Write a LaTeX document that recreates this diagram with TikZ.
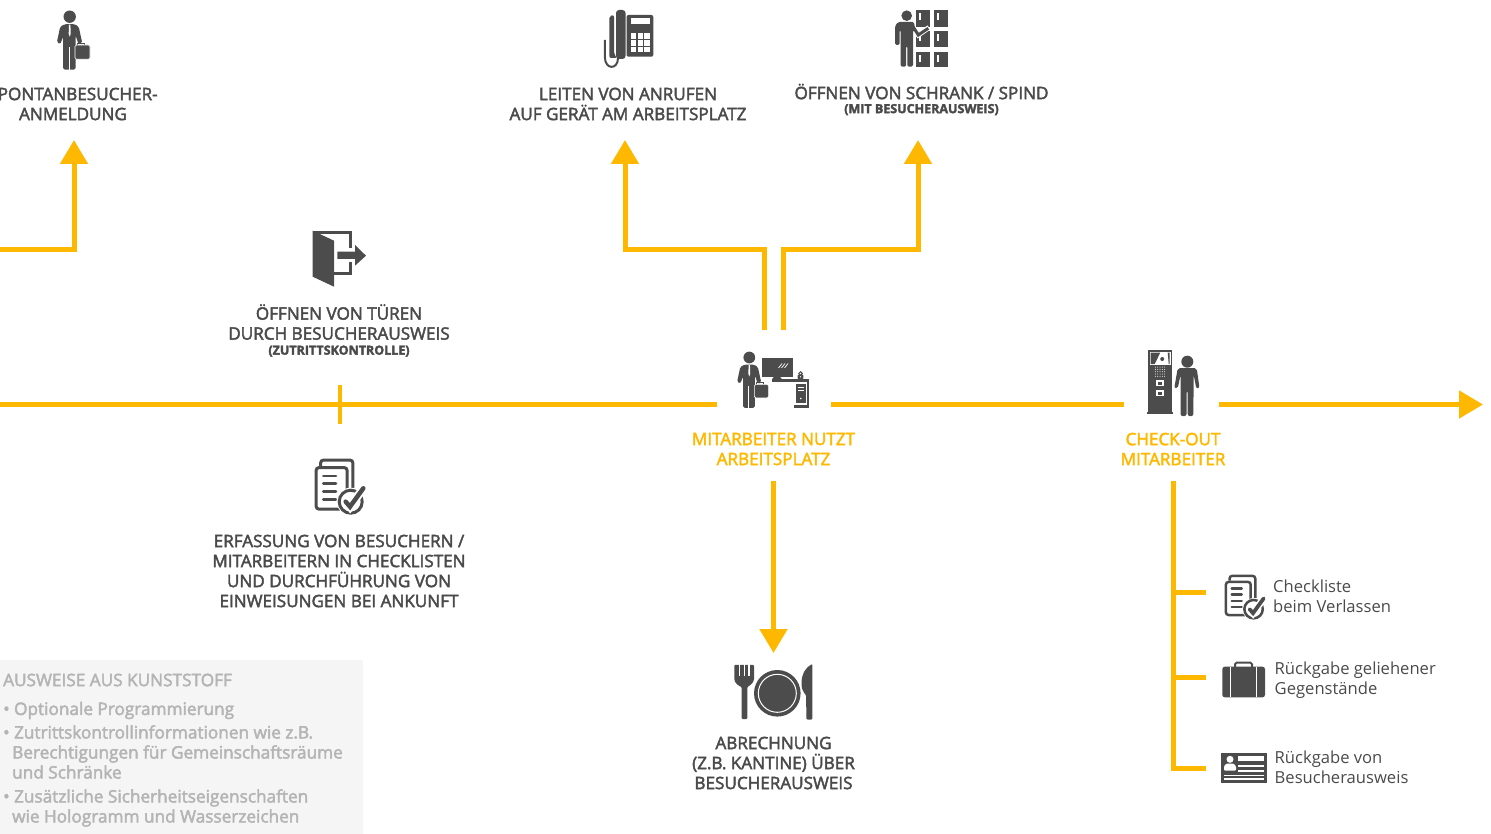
\documentclass[tikz,border=0pt]{standalone}
\usepackage{fontspec}
\setmainfont{Open Sans}
\newfontfamily\semifont{Open Sans}[FakeBold = 2.5]
\usetikzlibrary{arrows.meta}
\definecolor{amber}{HTML}{FFB800}
\definecolor{ink}{HTML}{4C4C4C}
\definecolor{wording}{HTML}{4A4A4A}
\definecolor{paper}{HTML}{F5F5F5}
\definecolor{faded}{HTML}{B4B4B4}
\newcommand{\smalllab}{\fontsize{12.5}{14}\selectfont\bfseries}
\begin{document}
\begin{tikzpicture}[
        x = 1pt, y = -1pt,
        arr/.style = {draw = amber, line width = 5pt, -{Triangle[length = 24pt, width = 27pt]}},
        lane/.style = {draw = amber, line width = 5pt},
        lab/.style = {align = center, text = wording, inner sep = 0pt, font = \fontsize{17.1}{20}\selectfont\semifont},
        hot/.style = {lab, text = amber},
        item/.style = {anchor = west, align = left, text = wording, inner sep = 0pt, font = \fontsize{16.6}{20}\selectfont},
        info/.style = {anchor = west, align = left, text = faded, inner sep = 0pt, font = \fontsize{17.2}{20}\selectfont\semifont},
        pics/suitman/.style = {code = {
            \fill[ink] (0, 0) circle (6.2);
            \fill[ink, rounded corners = 1.5pt] (-5, 7.5) -- (5, 7.5) -- (9, 10) -- (12.5, 26) -- (9, 28) -- (6, 19) -- (5.8, 53) -- (-6.5, 53) -- (-6.5, 20) -- (-9.5, 27.5) -- (-12.8, 25.5) -- (-9.5, 10) -- cycle;
            \fill[white] (-0.7, 8) -- (0.7, 8) -- (1, 17) -- (0, 20) -- (-1, 17) -- cycle;
            \fill[white] (-1.1, 30) rectangle (0.1, 54);
            \draw[ink, line width = 1.2pt] (7.5, 29) -- (7.5, 26.5) -- (15, 26.5) -- (15, 29);
            \fill[ink, draw = white, line width = 0.6pt, rounded corners = 1.5pt] (5.3, 28.3) rectangle (20.3, 42.6);
        }},
        pics/phone/.style = {code = {
            \fill[ink, rounded corners = 2pt] (22.5, 5) rectangle (49.3, 46.7);
            \fill[white] (26.7, 8.3) rectangle (46, 14);
            \foreach \col in {26.7, 33.5, 40.3}
                \foreach \row in {23.3, 30.2, 37.1}
                    \fill[white] (\col, \row) rectangle +(5.6, 5.4);
            \fill[ink, rounded corners = 3pt] (12, 0) rectangle (21.5, 49);
            \fill[ink, rounded corners = 2pt] (5.3, 6) -- (10, 5) -- (10, 44) -- (13, 48) -- (5.3, 48) -- cycle;
            \draw[ink, line width = 2pt] (0.9, 30) -- (0.9, 47) .. controls (0.9, 60) and (14, 60) .. (14, 48);
        }},
        pics/lockerman/.style = {code = {
            \foreach \lx in {21, 39.3}
                \foreach \ly/\lh in {0/16.7, 20.7/16.7, 41.7/15} {
                    \fill[ink] (\lx, \ly) rectangle +(14, \lh);
                    \fill[white] (\lx + 2.5, \ly + 3.5) rectangle +(2, 7);
                }
            \fill[ink] (11.7, 5.7) circle (5.3);
            \draw[white, line width = 5pt] (17, 16) -- (23.3, 25) -- (34, 17.5);
            \fill[ink, rounded corners = 1.5pt] (3, 12) -- (19, 12) -- (20, 20) -- (18, 20) -- (18, 56.7) -- (12.3, 56.7) -- (12.3, 36) -- (11.2, 36) -- (11.2, 56.7) -- (5.5, 56.7) -- (5.5, 20) -- (4.7, 20) -- (4.7, 35) -- (0, 35) -- (0, 16) -- cycle;
            \draw[ink, line width = 3pt] (17, 15) -- (23.3, 25) -- (33.3, 18.3);
        }},
        pics/exitdoor/.style = {code = {
            \fill[ink] (0, 0) -- (21.3, 10) -- (21.3, 56) -- (0, 46) -- cycle;
            \draw[ink, line width = 3pt] (0, 1.4) -- (37.5, 1.4) -- (37.5, 17.5);
            \draw[ink, line width = 3pt] (37.5, 31.5) -- (37.5, 43) -- (21.3, 43);
            \fill[ink] (24.6, 21) -- (42.3, 21) -- (42.3, 14.3) -- (53.3, 25) -- (42.3, 35) -- (42.3, 28.3) -- (24.6, 28.3) -- cycle;
        }},
        pics/checklist/.style = {code = {
            \draw[ink, line width = #1 pt, rounded corners = 2.5pt] (5.7, 7) -- (5.7, 1.2) -- (37.8, 1.2) -- (37.8, 29);
            \draw[ink, fill = white, line width = #1 pt, rounded corners = 2.5pt] (1.2, 8.7) rectangle (32, 50);
            \foreach \ly in {17, 24.3, 32.7, 40.3}
                \draw[ink, line width = 0.9 * #1 pt, line cap = round] (8.3, \ly) -- (21, \ly);
            \fill[white] (35.7, 42.7) circle (14);
            \draw[ink, line width = #1 pt] (35.7, 42.7) circle (11.5);
            \draw[white, line width = 2.8 * #1 pt] (30.7, 42.7) -- (35, 47.7) -- (48.3, 29.3);
            \draw[ink, line width = 1.5 * #1 pt, line cap = round] (30.7, 42.7) -- (35, 47.7) -- (48.3, 29.3);
        }},
        pics/desk/.style = {code = {
            \fill[ink] (0.3, 0.3) rectangle (30.7, 18.7);
            \draw[white, line width = 0.7pt] (16.5, 10) -- (20, 5.5) (19.5, 10) -- (23, 5.5) (22.5, 10) -- (26, 5.5);
            \fill[ink] (12, 18.7) -- (18, 18.7) -- (20, 21.3) -- (10, 21.3) -- cycle;
            \fill[ink] (9.7, 21.3) rectangle (47.3, 23.7);
            \fill[ink] (45.3, 23.7) rectangle (47.3, 48.7);
            \fill[ink] (33.7, 26.3) rectangle (44, 45.3);
            \fill[ink] (32, 47) rectangle (47.3, 49.7);
            \fill[white] (35.5, 29) rectangle (42.2, 30);
            \fill[white] (35.5, 32) rectangle (42.2, 33);
            \fill[white] (38.8, 40.5) circle (0.9);
            \fill[ink, rounded corners = 1pt] (35.7, 16.5) rectangle (41.3, 21.3);
            \draw[ink, line width = 1pt] (38.5, 15.5) circle (1.8);
            \fill[white] (38.5, 18.8) circle (0.7);
        }},
        pics/kiosk/.style = {code = {
            \fill[ink] (1.6, 0) rectangle (25.6, 61.7);
            \fill[ink] (0, 62) rectangle (26.6, 64.3);
            \fill[white] (3.3, 1.7) rectangle (24, 15);
            \fill[ink] (4, 2.7) -- (13.5, 2.7) -- (8, 14) -- (4, 14) -- cycle;
            \fill[ink] (21, 2.7) -- (23, 2.7) -- (23, 14) -- (22, 14) -- cycle;
            \fill[ink] (15.5, 9) circle (2);
            \foreach \dx in {-2, ..., 2}
                \foreach \dy in {-2, ..., 2}
                    \fill[white] (13.3 + 2.3 * \dx, 21.7 + 2.3 * \dy) circle (0.5);
            \foreach \ly in {30, 40} {
                \fill[white] (9.3, \ly) rectangle +(8.3, 6);
                \fill[ink] (11.5, \ly + 1.5) rectangle +(3.5, 3);
            }
            \fill[ink] (40.6, 11.7) circle (6);
            \fill[ink, rounded corners = 2pt] (31, 18.2) -- (50, 18.2) -- (52.8, 38) -- (49.6, 38.5) -- (47, 25) -- (46.6, 66) -- (41, 66) -- (41, 41) -- (39.8, 41) -- (39.8, 66) -- (33.8, 66) -- (33.8, 25) -- (31, 38.5) -- (27.6, 38) -- cycle;
        }},
        pics/meal/.style = {code = {
            \fill[ink, rounded corners = 1pt] (0.3, 0.8) -- (20, 0.8) -- (20, 14) .. controls (20, 19) and (15, 22) .. (13.3, 23) -- (13.3, 55) -- (7.7, 55) -- (7.7, 23) .. controls (5, 22) and (0.3, 19) .. (0.3, 14) -- cycle;
            \foreach \lx in {4.7, 9.5, 14.3}
                \fill[white] (\lx, 0) rectangle +(1.2, 12);
            \fill[ink] (43.3, 29.3) circle (23.3);
            \draw[white, line width = 1pt] (43.3, 29.3) circle (19);
            \fill[ink, rounded corners = 1pt] (78.3, 0) .. controls (72, 3) and (67.5, 10) .. (67.5, 20) .. controls (67.5, 25) and (70, 29) .. (72, 31) -- (72.5, 55.5) -- (78.3, 55.5) -- cycle;
        }},
        pics/suitcase/.style = {code = {
            \draw[ink, line width = 2pt, rounded corners = 1.5pt] (13, 6) -- (13, 1) -- (30, 1) -- (30, 6);
            \fill[ink, rounded corners = 2.5pt] (0.3, 5) rectangle (43, 35.6);
            \fill[white] (8.1, 5) rectangle +(1.2, 30.6);
            \fill[white] (34.1, 5) rectangle +(1.2, 30.6);
        }},
        pics/idcard/.style = {code = {
            \fill[ink] (0, 0) rectangle (45.7, 30.6);
            \fill[white] (9, 6.6) circle (3.5);
            \fill[white, rounded corners = 1pt] (3, 18) -- (3, 13.5) -- (5.5, 10.8) -- (12.5, 10.8) -- (15, 13.5) -- (15, 18) -- cycle;
            \fill[white] (16.7, 3.3) rectangle (43.3, 8.3);
            \fill[white] (16.7, 12.3) rectangle (43.3, 14);
            \fill[white] (16.7, 17.3) rectangle (43.3, 19.3);
            \fill[white] (3, 21.8) rectangle (43.3, 23.3);
            \fill[white] (3, 25.3) rectangle (43.3, 27.3);
        }},
    ]
    \useasboundingbox (0, 0) rectangle (1491, 834);
    \fill[paper] (0, 660) rectangle (363, 834);

    \coordinate (lineA) at (0, 404.5);
    \coordinate (lineB) at (717, 404.5);
    \coordinate (lineC) at (831, 404.5);
    \coordinate (lineD) at (1124, 404.5);
    \coordinate (lineE) at (1219, 404.5);
    \coordinate (lineF) at (1483, 404.5);
    \coordinate (tickT) at (339.5, 385);
    \coordinate (tickB) at (339.5, 424);
    \coordinate (walkA) at (0, 250);
    \coordinate (walkB) at (74, 250);
    \coordinate (walkC) at (74, 140);
    \coordinate (callA) at (764, 330);
    \coordinate (callB) at (764, 250);
    \coordinate (callC) at (625, 250);
    \coordinate (callD) at (625, 140);
    \coordinate (lockA) at (783, 330);
    \coordinate (lockB) at (783, 250);
    \coordinate (lockC) at (918, 250);
    \coordinate (lockD) at (918, 140);
    \coordinate (mealA) at (773.5, 481);
    \coordinate (mealB) at (773.5, 653);
    \coordinate (outA) at (1173, 481);
    \coordinate (outB) at (1173, 768.5);
    \coordinate (outC) at (1206, 768.5);
    \coordinate (outD) at (1173, 592.5);
    \coordinate (outE) at (1206, 592.5);
    \coordinate (outF) at (1173, 677.5);
    \coordinate (outG) at (1206, 677.5);

    \path[lane] (lineA) -- (lineB);
    \path[lane] (lineC) -- (lineD);
    \path[arr] (lineE) -- (lineF);
    \path[draw = amber, line width = 4pt] (tickT) -- (tickB);
    \path[arr] (walkA) -- (walkB) -- (walkC);
    \path[arr] (callA) -- (callB) -- (callC) -- (callD);
    \path[arr] (lockA) -- (lockB) -- (lockC) -- (lockD);
    \path[arr] (mealA) -- (mealB);
    \path[lane] (outA) -- (outB) -- (outC);
    \path[lane] (outD) -- (outE);
    \path[lane] (outF) -- (outG);

    \pic at (69.7, 16.7) {suitman};
    \pic at (604, 10) {phone};
    \pic at (895, 10) {lockerman};
    \pic at (312.7, 230.7) {exitdoor};
    \pic at (315, 459) {checklist = 3};
    \pic[scale = 0.95] at (749.3, 357.5) {suitman};
    \pic at (762, 358) {desk};
    \pic at (1146.7, 350) {kiosk};
    \pic at (734, 664) {meal};
    \pic[scale = 0.8] at (1225, 575) {checklist = 2.5};
    \pic at (1222, 661.7) {suitcase};
    \pic at (1221, 752.7) {idcard};

    \node (walkin) at (73, 104) [lab] {SPONTANBESUCHER-\\ANMELDUNG};
    \node (calls) at (628, 104) [lab] {LEITEN VON ANRUFEN\\AUF GERÄT AM ARBEITSPLATZ};
    \node (lockers) at (921.5, 99.5) [lab] {ÖFFNEN VON SCHRANK / SPIND\\[-6pt]{\smalllab (MIT BESUCHERAUSWEIS)}};
    \node (doors) at (339, 330.5) [lab] {ÖFFNEN VON TÜREN\\DURCH BESUCHERAUSWEIS\\[-5pt]{\smalllab (ZUTRITTSKONTROLLE)}};
    \node (records) at (339, 571) [lab] {ERFASSUNG VON BESUCHERN /\\MITARBEITERN IN CHECKLISTEN\\UND DURCHFÜHRUNG VON\\EINWEISUNGEN BEI ANKUNFT};
    \node (workplace) at (773.5, 449) [hot] {MITARBEITER NUTZT\\ARBEITSPLATZ};
    \node (checkout) at (1173, 449) [hot] {CHECK-OUT\\MITARBEITER};
    \node (billing) at (773.5, 763) [lab] {ABRECHNUNG\\(Z.B. KANTINE) ÜBER\\BESUCHERAUSWEIS};

    \node (leaving) at (1273, 596) [item] {Checkliste\\beim Verlassen};
    \node (loans) at (1274.5, 680) [item] {Rückgabe geliehener\\Gegenstände};
    \node (badge) at (1274.5, 767) [item] {Rückgabe von\\Besucherausweis};

    \node (plastic) at (3, 680) [info] {AUSWEISE AUS KUNSTSTOFF};
    \node (infoA) at (3, 710.5) [info] {• Optionale Programmierung};
    \node (infoB) at (3, 752) [info] {• Zutrittskontrollinformationen wie z.B.\\\hspace*{9pt}Berechtigungen für Gemeinschaftsräume\\\hspace*{9pt}und Schränke};
    \node (infoC) at (3, 808) [info] {• Zusätzliche Sicherheitseigenschaften\\\hspace*{9pt}wie Hologramm und Wasserzeichen};
\end{tikzpicture}
\end{document}
